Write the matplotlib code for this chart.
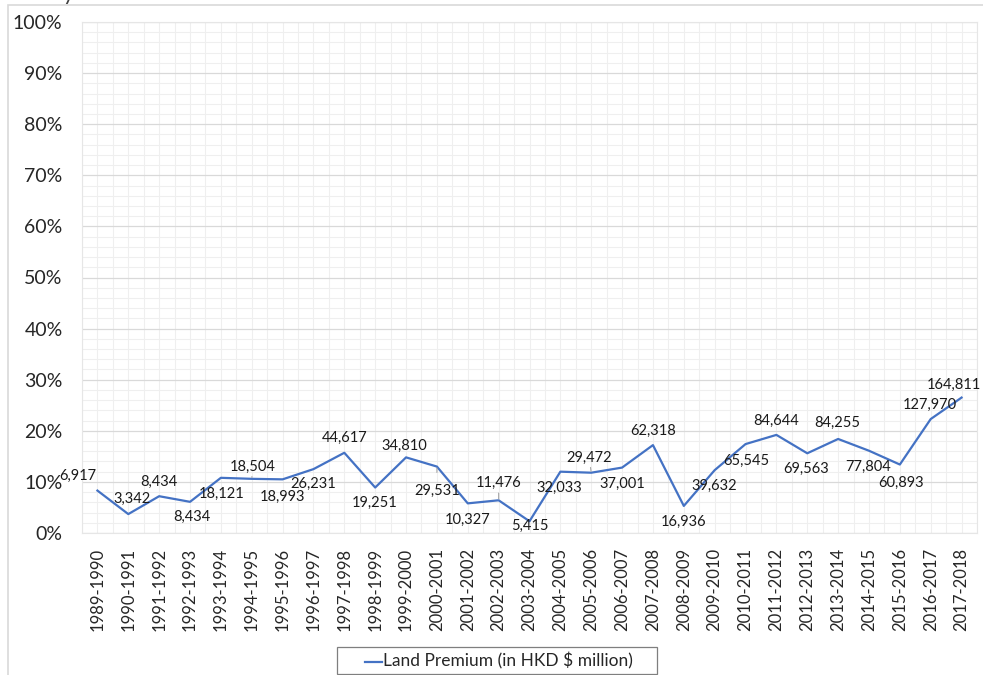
import matplotlib.pyplot as plt
from matplotlib.patches import Rectangle
from matplotlib.ticker import MultipleLocator, FuncFormatter

plt.rcParams['font.family'] = ['Lato', 'DejaVu Sans']

years = ['1989-1990', '1990-1991', '1991-1992', '1992-1993', '1993-1994',
         '1994-1995', '1995-1996', '1996-1997', '1997-1998', '1998-1999',
         '1999-2000', '2000-2001', '2001-2002', '2002-2003', '2003-2004',
         '2004-2005', '2005-2006', '2006-2007', '2007-2008', '2008-2009',
         '2009-2010', '2010-2011', '2011-2012', '2012-2013', '2013-2014',
         '2014-2015', '2015-2016', '2016-2017', '2017-2018']

# land premium as a share (%) - plotted values
share_pct = [8.3, 3.7, 7.2, 6.1, 10.8, 10.6, 10.5, 12.5, 15.7, 8.9,
             14.8, 13.0, 5.8, 6.4, 2.3, 12.0, 11.8, 12.8, 17.2, 5.3,
             12.3, 17.4, 19.2, 15.6, 18.4, 16.1, 13.4, 22.3, 26.5]

# land premium in HKD $ million - data labels
premium = [6917, 3342, 8434, 8434, 18121, 18504, 18993, 26231, 44617, 19251,
           34810, 29531, 10327, 11476, 5415, 32033, 29472, 37001, 62318, 16936,
           39632, 65545, 84644, 69563, 84255, 77804, 60893, 127970, 164811]

# label offsets from each point, in pixels (x right, y up)
label_dx = [-20, 4, 0, 2, 1, 1, 0, 0, 0, -1, -2, 0, 0, 0, 0,
            -1, -2, 0, 0, 0, 0, 1, 0, -1, -1, -1, 1, -1, -8]
label_dy = [15, 15, 14, -15, -16, 12, -18, -15, 15, -15, 11, -24, -17, 17, -5,
            -16, 15, -16, 14, -16, -16, -17, 14, -16, 16, -16, -18, 14, 13]
leader = {5, 11, 13, 16}

W, H = 983, 675
fig = plt.figure(figsize=(W / 100, H / 100), dpi=100)
ax = fig.add_axes([82 / W, 1 - 533 / H, 895 / W, 511 / H])

x = list(range(len(years)))
ax.plot(x, share_pct, color='#4472C4', lw=1.6, zorder=3)

for i, (xi, yi, v) in enumerate(zip(x, share_pct, premium)):
    kw = {}
    if i in leader:
        kw['arrowprops'] = dict(arrowstyle='-', color='#a6a6a6', lw=0.8,
                                shrinkA=6, shrinkB=1)
    ax.annotate(f'{v:,}', (xi, yi), xytext=(label_dx[i], label_dy[i]),
                textcoords='offset pixels', ha='center', va='center',
                fontsize=10.5, color='#1a1a1a', zorder=4, **kw)

ax.set_xlim(-0.5, len(years) - 0.5)
ax.set_ylim(0, 100)
ax.yaxis.set_major_locator(MultipleLocator(10))
ax.yaxis.set_minor_locator(MultipleLocator(2))
ax.yaxis.set_major_formatter(FuncFormatter(lambda v, p: f'{v:.0f}%'))
ax.set_xticks(x)
ax.set_xticklabels(years, rotation=90)
ax.set_xticks([i + 0.5 for i in range(-1, len(years))], minor=True)

ax.grid(which='major', axis='y', color='#d9d9d9', lw=0.9)
ax.grid(which='minor', axis='y', color='#efefef', lw=0.8)
ax.grid(which='both', axis='x', color='#efefef', lw=0.8)
ax.set_axisbelow(True)

for s in ax.spines.values():
    s.set_color('#e6e6e6')
    s.set_linewidth(0.8)

ax.tick_params(which='both', length=0)
ax.tick_params(axis='y', labelsize=14, pad=14, labelcolor='#262626')
ax.tick_params(axis='x', labelsize=12, pad=11, labelcolor='#262626')

# legend box drawn by hand: frame, line sample and text
fig.add_artist(Rectangle((337 / W, 1 - 674 / H), 320 / W, 27 / H,
                         transform=fig.transFigure, fill=False,
                         edgecolor='#7f7f7f', lw=0.9))
fig.add_artist(plt.Line2D([365 / W, 382 / W], [1 - 662 / H, 1 - 662 / H],
                          transform=fig.transFigure, color='#4472C4', lw=1.6))
fig.text(383 / W, 1 - 661 / H, 'Land Premium (in HKD $ million)',
         fontsize=12.5, va='center', ha='left', color='#262626')

# chart frame and the clipped title above it
fig.add_artist(Rectangle((8 / W, -0.1), 1.2, 1 - 5 / H + 0.1,
                         transform=fig.transFigure, fill=False,
                         edgecolor='#d9d9d9', lw=1.2))
fig.text(63 / W, 1.0, 'y', fontsize=16, va='baseline', color='#404040')

fig.savefig('out.png', dpi=100)
